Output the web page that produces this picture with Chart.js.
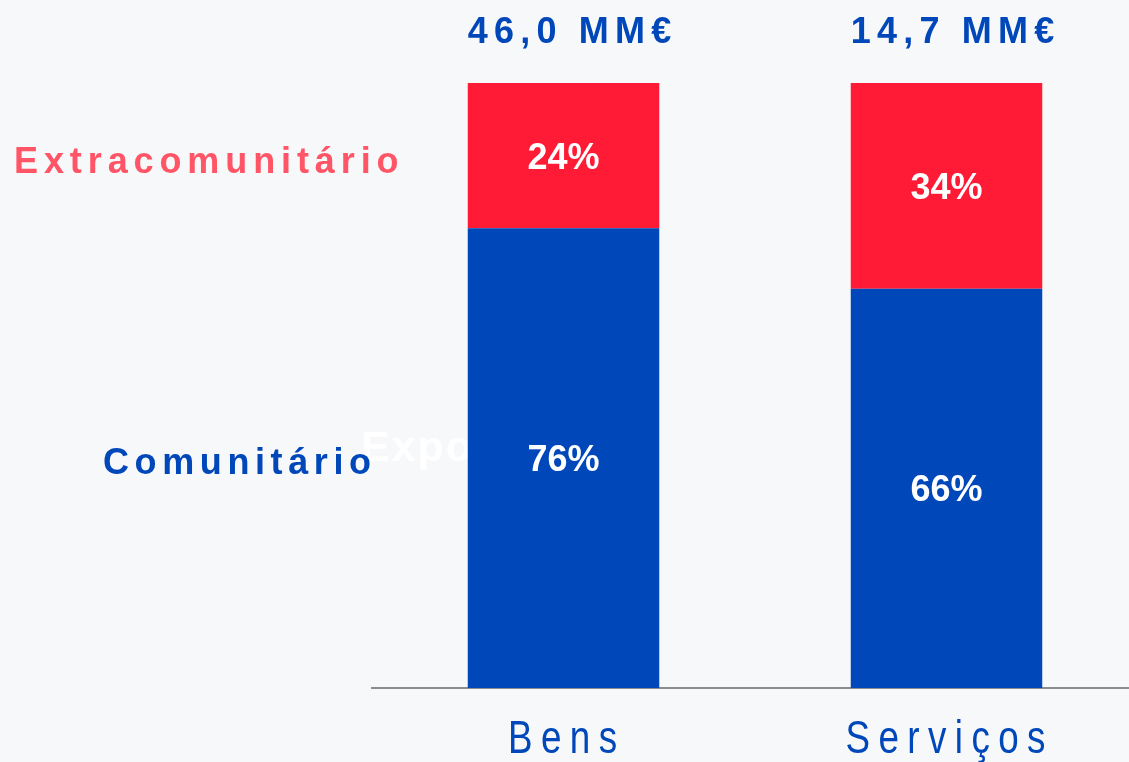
<!DOCTYPE html>
<html>
<head>
<meta charset="utf-8">
<script src="https://cdn.jsdelivr.net/npm/chart.js@4.4.1/dist/chart.umd.min.js"></script>
<style>
  html, body { margin: 0; padding: 0; background: #f7f8fa; overflow: hidden; }
  #wrap { width: 1140px; height: 762px; }
</style>
</head>
<body>
<div id="wrap"><canvas id="grafico"></canvas></div>
<script>
const categorias = ["Bens", "Serviços"];
const comunitario = [76, 66];
const extracomunitario = [24, 34];
const totais = [46.0, 14.7];

const AZUL = "#0047ba";
const VERMELHO = "#ff1a35";
const FONTE = "'Liberation Sans', Arial, sans-serif";

function fmtTotal(v) {
    return v.toFixed(1).replace(".", ",") + " MM€";
}

// texto com espaçamento entre letras; sx = compressão horizontal
function texto(ctx, str, x, y, font, cor, espaco, align, sx) {
    sx = sx || 1;
    ctx.save();
    ctx.font = font;
    ctx.fillStyle = cor;
    ctx.letterSpacing = espaco + "px";
    ctx.textBaseline = "middle";
    ctx.textAlign = "left";
    const w = (ctx.measureText(str).width - espaco) * sx;
    let x0 = x;
    if (align === "center") x0 = x - w / 2;
    if (align === "right") x0 = x - w;
    ctx.translate(x0, y);
    ctx.scale(sx, 1);
    ctx.fillText(str, 0, 0);
    ctx.restore();
}

const textos = {
    id: "textos",
    beforeDatasetsDraw(chart) {
        // texto branco escondido atrás das barras
        texto(chart.ctx, "Exportações", 361, 449, "bold 43px " + FONTE, "#ffffff", 2, "left");
    },
    afterDatasetsDraw(chart) {
        const ctx = chart.ctx;
        const x = chart.scales.x;
        const y = chart.scales.y;

        texto(ctx, "Extracomunitário", 14, 163, "bold 36px " + FONTE, "#ff5566", 5.9, "left");
        texto(ctx, "Comunitário", 103, 464, "bold 36px " + FONTE, AZUL, 5.6, "left");

        categorias.forEach((c, i) => {
            const cx = x.getPixelForValue(i);
            texto(ctx, fmtTotal(totais[i]), cx + 6, 33, "bold 36px " + FONTE, AZUL, 6.2, "center");
            texto(ctx, c, cx - 1, 740, "46px " + FONTE, AZUL, 10.5, "center", 0.8);

            const yBase = y.getPixelForValue(0);
            const yMeio = y.getPixelForValue(comunitario[i]);
            const yTopo = y.getPixelForValue(comunitario[i] + extracomunitario[i]);
            texto(ctx, comunitario[i] + "%", cx, (yBase + yMeio) / 2 + 3, "bold 36px " + FONTE, "#ffffff", 0, "center");
            texto(ctx, extracomunitario[i] + "%", cx, (yMeio + yTopo) / 2 + 3, "bold 36px " + FONTE, "#ffffff", 0, "center");
        });
    }
};

new Chart(document.getElementById("grafico"), {
    type: "bar",
    data: {
        labels: categorias,
        datasets: [
            { label: "Comunitário", data: comunitario, backgroundColor: AZUL, borderWidth: 0 },
            { label: "Extracomunitário", data: extracomunitario, backgroundColor: VERMELHO, borderWidth: 0 }
        ]
    },
    options: {
        responsive: true,
        maintainAspectRatio: false,
        animation: false,
        layout: { padding: { left: 372, right: 2, top: 83, bottom: 66 } },
        plugins: { legend: { display: false }, tooltip: { enabled: false } },
        scales: {
            x: {
                stacked: true,
                grid: { display: false },
                border: { display: true, color: "#8c8c8c", width: 2 },
                ticks: { display: false }
            },
            y: {
                stacked: true,
                min: 0,
                max: 100,
                display: false
            }
        },
        datasets: { bar: { barPercentage: 0.5, categoryPercentage: 1 } }
    },
    plugins: [textos]
});
</script>
</body>
</html>
